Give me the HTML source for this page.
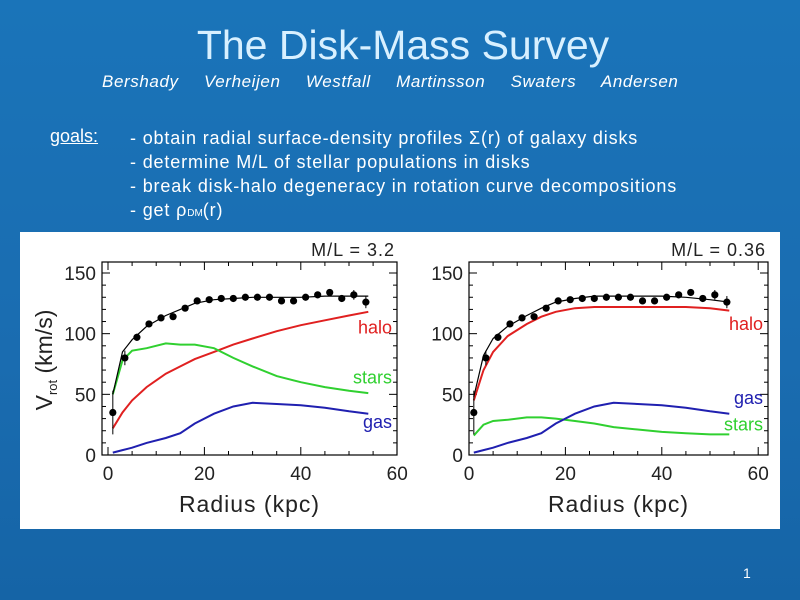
<!DOCTYPE html>
<html><head><meta charset="utf-8"><style>
body{margin:0;width:800px;height:600px;overflow:hidden;background:linear-gradient(180deg,#1a74b9 0%,#1a6cb0 60%,#1564a6 100%);font-family:"Liberation Sans",sans-serif;color:#fff;position:relative}
.t{position:absolute;white-space:nowrap}
</style></head><body>
<div class="t" style="left:0;width:806px;text-align:center;top:22px;font-size:41px;color:#d8f0ff">The Disk-Mass Survey</div>
<div class="t" style="left:102px;top:72px;font-size:17px;font-style:italic;letter-spacing:0.6px;word-spacing:20px">Bershady Verheijen Westfall Martinsson Swaters Andersen</div>
<div class="t" style="left:50px;top:126px;font-size:18px;text-decoration:underline">goals:</div>
<div class="t" style="left:130px;top:126px;font-size:18px;line-height:24px;letter-spacing:0.85px">- obtain radial surface-density profiles Σ(r) of galaxy disks<br>- determine M/L of stellar populations in disks<br>- break disk-halo degeneracy in rotation curve decompositions<br>- get ρ<span style="font-size:10px;letter-spacing:0">DM</span>(r)</div>
<div class="t" style="left:743px;top:565px;font-size:14px">1</div>
<svg id="c" width="800" height="600" style="position:absolute;left:0;top:0" font-family="Liberation Sans, sans-serif"></svg>
<script>
const radii=[1,3.5,6,8.5,11,13.5,16,18.5,21,23.5,26,28.5,31,33.5,36,38.5,41,43.5,46,48.5,51,53.5];
const vobs=[35,80,97,108,113,114,121,127,128,129,129,130,130,130,127,127,130,132,134,129,132,126];
const errs=[18,6,3,2,2,2,2,2,2,2,2,2,2,2,2,2,2,2,2,2,4,5];
const rModel=[1,3,5,8,12,15,18,22,26,30,35,40,45,50,54];
const haloL=[22,35,45,56,67,73,79,85,91,96,102,107,111,115,118];
const starsL=[50,78,86,88,92,91,91,88,80,73,65,60,56,53,51];
const gas=[2,4,6,10,14,18,26,34,40,43,42,41,39,36,34];
const totalL=[50,85,95,106,115,120,125,128,129,130,130,130,131,131,131];
const haloR=[45,70,85,98,108,114,118,121,122,122,122,122,122,121,119];
const starsR=[16,25,28,29,31,31,30,28,26,23,21,19,18,17,17];
const totalR=[48,82,96,106,115,121,126,129,131,131,131,131,130,128,126];
const xTicks=[0,20,40,60];
const yTicks=[0,50,100,150];
const svg=document.getElementById('c');
const NS='http://www.w3.org/2000/svg';
function mk(t,a,p){const e=document.createElementNS(NS,t);for(const k in a)e.setAttribute(k,a[k]);(p||svg).appendChild(e);return e;}
const bg=mk('rect',{x:20,y:232,width:760,height:297,fill:'#fff'});


const yS=v=>455-v*182/150;
function panel(x0,boxL,boxR,halo,stars,total,ml,name,labels){
  const xS=r=>x0+r*4.82;
  const g=mk('g',{});
  
  
  mk('rect',{x:boxL,y:262,width:boxR-boxL,height:193,fill:'none',stroke:'#000','stroke-width':1.2},g);
  for(let v=0;v<=150;v+=10){const y=yS(v);const L=v%50==0?8:4;mk('line',{x1:boxL,x2:boxL+L,y1:y,y2:y,stroke:'#000'},g);mk('line',{x1:boxR,x2:boxR-L,y1:y,y2:y,stroke:'#000'},g);}
  for(let r=0;r<=60;r+=5){const x=xS(r);if(x<boxL||x>boxR)continue;const L=r%20==0?8:4;mk('line',{x1:x,x2:x,y1:455,y2:455-L,stroke:'#000'},g);mk('line',{x1:x,x2:x,y1:262,y2:262+L,stroke:'#000'},g);}
  yTicks.forEach(v=>{const t=mk('text',{x:boxL-6,y:yS(v)+7,'text-anchor':'end','font-size':19,fill:'#222'},g);t.textContent=v;});
  xTicks.forEach(r=>{const t=mk('text',{x:xS(r),y:480,'text-anchor':'middle','font-size':19,fill:'#222'},g);t.textContent=r;});
  const xt=mk('text',{x:(boxL+boxR)/2,y:512,'text-anchor':'middle','font-size':23,fill:'#222','letter-spacing':1},g);xt.textContent='Radius  (kpc)';
  const mt=mk('text',{x:boxR-2,y:256,'text-anchor':'end','font-size':18,fill:'#222','letter-spacing':1},g);mt.textContent=ml;
  const line=(arr,col,nm,w)=>{const p=mk('path',{d:arr.map((v,i)=>(i?'L':'M')+xS(rModel[i]).toFixed(1)+' '+yS(v).toFixed(1)).join(''),fill:'none',stroke:col,'stroke-width':w},g);};
  line(halo,'#e02020','halo-curve',2);line(stars,'#30d030','stars-curve',2);line(gas,'#2020b0','gas-curve',2);line(total,'#000','total-fit-curve',1.2);
  radii.forEach((r,i)=>{const x=xS(r),y=yS(vobs[i]);mk('line',{x1:x,x2:x,y1:yS(vobs[i]+errs[i]),y2:yS(vobs[i]-errs[i]),stroke:'#000'},g);const c=mk('circle',{cx:x,cy:y,r:3.6,fill:'#000'},g);});
  labels.forEach(([txt,col,v])=>{const t=mk('text',{x:boxR-5,y:yS(v)+6,'text-anchor':'end','font-size':18,fill:col},g);t.textContent=txt;});
}
panel(108,102,397,haloL,starsL,totalL,'M/L = 3.2','left-panel',[['halo','#e02020',105],['stars','#30d030',64],['gas','#2020b0',27]]);
panel(469,469,768,haloR,starsR,totalR,'M/L = 0.36','right-panel',[['halo','#e02020',108],['gas','#2020b0',47],['stars','#30d030',25]]);
const yl=mk('text',{transform:'translate(52,360) rotate(-90)','text-anchor':'middle','font-size':23,fill:'#222'});


yl.innerHTML='V<tspan font-size="13" dy="5">rot</tspan><tspan dy="-5">  (km/s)</tspan>';
</script>
</body></html>
